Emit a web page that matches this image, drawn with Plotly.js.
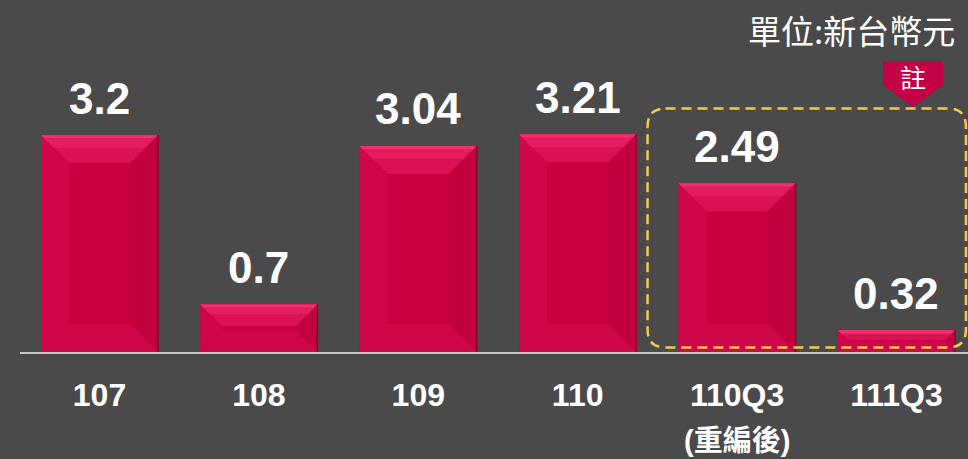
<!DOCTYPE html>
<html><head><meta charset="utf-8">
<script src="https://cdn.plot.ly/plotly-3.0.1.min.js"></script>
<style>html,body{margin:0;padding:0;background:#4a4a4a;}#chart{width:968px;height:459px;}</style>
</head><body><div id="chart"></div>
<script>
// ---- data ----
const categories = ["107", "108", "109", "110", "110Q3", "111Q3"];
const values = [3.2, 0.7, 3.04, 3.21, 2.49, 0.32];
const valueLabels = ["3.2", "0.7", "3.04", "3.21", "2.49", "0.32"];
const unitLabel = "單位:新台幣元";
const noteLabel = "註";
const subLabel = "(重編後)";
const subLabelCategory = "110Q3";
const boxedCategories = ["110Q3", "111Q3"];

// ---- layout geometry ----
const W = 968, H = 459;
const mL = 20, mR = 0, mT = 10, mB = 107;
const plotW = W - mL - mR, plotH = H - mT - mB;
const xRange = [-0.4987, 5.449];
const yRange = [0, 5.044];
const pxX = plotW / (xRange[1] - xRange[0]);
const pxY = plotH / (yRange[1] - yRange[0]);
const barW = 0.734, hw = barW / 2;
const xs = categories.map((c, i) => i);

const shapes = [];
values.forEach((v, i) => {
  const xl = i - hw, xr = i + hw, yt = v;
  const bpx = Math.min(28, v * pxY * 0.45);
  const bx = bpx / pxX, by = bpx / pxY;
  const P = pts => 'M' + pts.map(p => p[0] + ',' + p[1]).join(' L') + ' Z';
  // left side
  shapes.push({type:'path', xref:'x', yref:'y', layer:'above', line:{width:0}, fillcolor:'#cf0649',
    path:P([[xl,0],[xl,yt],[xl+bx,yt-by],[xl+bx,by]])});
  // right side
  shapes.push({type:'path', xref:'x', yref:'y', layer:'above', line:{width:0}, fillcolor:'#c2003f',
    path:P([[xr,0],[xr,yt],[xr-bx,yt-by],[xr-bx,by]])});
  // bottom
  shapes.push({type:'path', xref:'x', yref:'y', layer:'above', line:{width:0}, fillcolor:'#ce0749',
    path:P([[xl,0],[xr,0],[xr-bx,by],[xl+bx,by]])});
  // top
  shapes.push({type:'path', xref:'x', yref:'y', layer:'above', line:{width:0}, fillcolor:'#d91255',
    path:P([[xl,yt],[xr,yt],[xr-bx,yt-by],[xl+bx,yt-by]])});
  // top highlight (upper half of top band)
  const hy = by * 0.45, hx = hy * pxY / pxX;
  shapes.push({type:'path', xref:'x', yref:'y', layer:'above', line:{width:0}, fillcolor:'#e41c60',
    path:P([[xl,yt],[xr,yt],[xr-hx,yt-hy],[xl+hx,yt-hy]])});
  const hy2 = Math.min(by, 3 / pxY), hx2 = hy2 * pxY / pxX;
  shapes.push({type:'path', xref:'x', yref:'y', layer:'above', line:{width:0}, fillcolor:'#f2306c',
    path:P([[xl,yt],[xr,yt],[xr-hx2,yt-hy2],[xl+hx2,yt-hy2]])});
  // dark right edge
  shapes.push({type:'line', xref:'x', yref:'y', layer:'above', x0:xr, x1:xr, y0:0, y1:yt,
    line:{color:'#920032', width:1.5}});
});

// dashed rounded box around the boxed categories
(function(){
  const i0 = categories.indexOf(boxedCategories[0]);
  const i1 = categories.indexOf(boxedCategories[boxedCategories.length - 1]);
  const x0 = i0 - hw - 31 / pxX, x1 = i1 + hw + 11 / pxX;
  const y1 = (352 - 108.5) / pxY, y0 = 4.5 / pxY;
  const rx = 18 / pxX, ry = 18 / pxY;
  const path = `M${x0+rx},${y1} L${x1-rx},${y1} Q${x1},${y1} ${x1},${y1-ry} L${x1},${y0+ry} Q${x1},${y0} ${x1-rx},${y0} L${x0+rx},${y0} Q${x0},${y0} ${x0},${y0+ry} L${x0},${y1-ry} Q${x0},${y1} ${x0+rx},${y1} Z`;
  shapes.push({type:'path', xref:'x', yref:'y', layer:'above', path:path,
    line:{color:'#f5c84c', width:2.5, dash:'10px,6px'}, fillcolor:'rgba(0,0,0,0)'});
})();

// note badge (pentagon pointing down)
(function(){
  const px = x => (x - mL) / plotW, py = y => (H - mB - y) / plotH;
  const path = `M${px(883)},${py(61)} L${px(943)},${py(61)} L${px(943)},${py(85)} L${px(913)},${py(107)} L${px(883)},${py(85)} Z`;
  shapes.push({type:'path', xref:'paper', yref:'paper', layer:'above', path:path,
    line:{width:0}, fillcolor:'#c40046'});
})();

const annotations = values.map((v, i) => ({
  x: i, y: v, xref:'x', yref:'y', text: valueLabels[i], showarrow:false,
  xanchor:'center', yanchor:'middle', yshift: 37,
  font:{family:'Liberation Sans, Arial, sans-serif', size:44, color:'#ffffff', weight:'bold'}
}));
annotations.push({
  x: (957 - mL) / plotW, y: (H - mB - 30) / plotH, xref:'paper', yref:'paper',
  text: unitLabel, showarrow:false, xanchor:'right', yanchor:'middle',
  font:{family:'Noto Sans CJK TC, sans-serif', size:33, color:'#ffffff', weight:'normal'}
});
annotations.push({
  x: (913 - mL) / plotW, y: (H - mB - 76) / plotH, xref:'paper', yref:'paper',
  text: noteLabel, showarrow:false, xanchor:'center', yanchor:'middle',
  font:{family:'Noto Sans CJK TC, sans-serif', size:26, color:'#ffffff'}
});
annotations.push({
  x: categories.indexOf(subLabelCategory), y: 0, xref:'x', yref:'y',
  text: subLabel, showarrow:false, xanchor:'center', yanchor:'middle', yshift: -89,
  font:{family:'Liberation Sans, Noto Sans CJK TC, sans-serif', size:29, color:'#ffffff', weight:'bold'}
});

const trace = {
  type:'bar', x: xs, y: values, width: barW,
  marker:{color:'#c80042', line:{width:0}},
  hoverinfo:'skip'
};

const layout = {
  width: W, height: H,
  margin:{l:mL, r:mR, t:mT, b:mB, pad:0},
  paper_bgcolor:'#4a4a4a', plot_bgcolor:'#4a4a4a',
  showlegend:false,
  xaxis:{type:'linear', range:xRange, tickvals:xs, ticktext:categories,
    showgrid:false, zeroline:false, showline:true, linecolor:'#c8c8c8', linewidth:2,
    ticks:'', ticklabelstandoff: 14,
    tickfont:{family:'Liberation Sans, Arial, sans-serif', size:32, color:'#ffffff', weight:'bold'}},
  yaxis:{range:yRange, showgrid:false, zeroline:false, showline:false, showticklabels:false, ticks:''},
  shapes: shapes,
  annotations: annotations
};

Plotly.newPlot('chart', [trace], layout, {staticPlot:true, displayModeBar:false});
</script></body></html>
